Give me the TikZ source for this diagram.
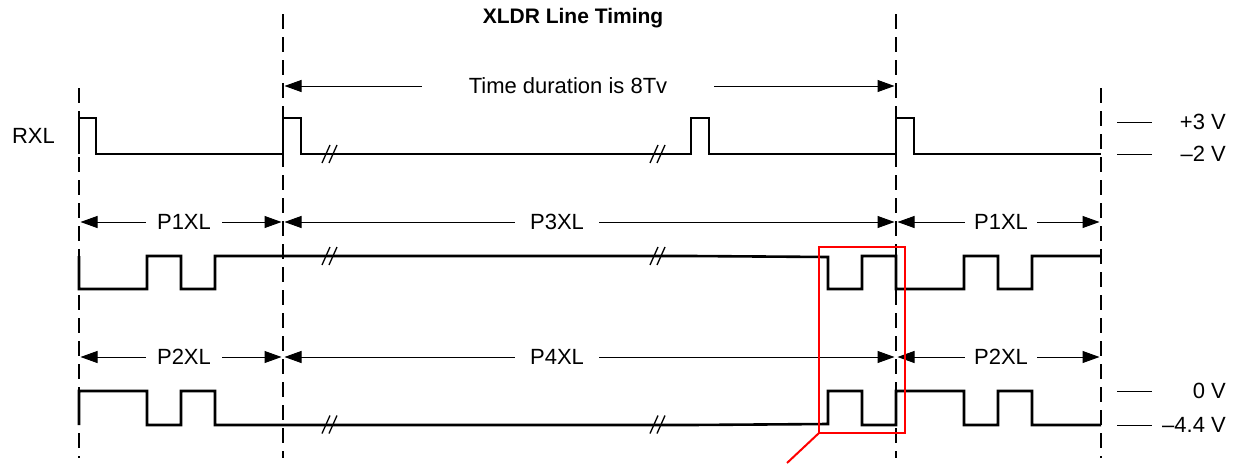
\documentclass[tikz,border=0pt]{standalone}
\usepackage{fontspec}
\setmainfont{Liberation Sans}
\usetikzlibrary{arrows.meta}

\tikzset{
  lbl/.style={font=\fontsize{22}{26}\selectfont, inner sep=0pt},
  marker/.style={line width=1.1pt, dash pattern=on 15pt off 8pt},
  wave/.style={line width=2.6pt},
  dim/.style={line width=1pt, -{Triangle[length=17pt,width=12pt]}, shorten >=1.5pt},
  brk/.style={line width=1.3pt},
  tick/.style={line width=1pt},
  zoombox/.style={draw=red, line width=2pt},
}

\begin{document}
\begin{tikzpicture}[x=1pt,y=-1pt]
	\useasboundingbox (0,0) rectangle (1241,463);

	% frame markers
	\foreach \x [count=\i from 0] in {79,283,896,1101}
		\coordinate (m\i) at (\x,0);
	\draw[marker] (79,88) -- (79,458);
	\draw[marker] (283,14) -- (283,458);
	\draw[marker] (896,14) -- (896,458);
	\draw[marker] (1101,88) -- (1101,458);

	% title
	\node[lbl, font=\fontsize{21}{25}\selectfont\bfseries] (title) at (573,18) {XLDR Line Timing};

	% duration
	\node[lbl, inner xsep=47pt] (dur) at (568,86) {Time duration is 8Tv};
	\draw[dim] (dur) -- (dur -| m1);
	\draw[dim] (dur) -- (dur -| m2);

	% RXL
	\node[lbl, anchor=east] (rxl) at (55,136) {RXL};
	\draw[wave] (79,154) -- (79,118) -- (96,118) -- (96,154) -- (283,154) -- (283,118) -- (301,118) -- (301,154)
		-- (691,154) -- (691,118) -- (709,118) -- (709,154) -- (896,154) -- (896,118) -- (914,118) -- (914,154) -- (1101,154);

	% P1XL / P3XL
	\node[lbl, inner xsep=11pt] (p1a) at (184,222) {P1XL};
	\node[lbl, inner xsep=15pt] (p3) at (557,222) {P3XL};
	\node[lbl, inner xsep=9pt] (p1b) at (1001,222) {P1XL};
	\draw[dim] (p1a) -- (p1a -| m0);
	\draw[dim] (p1a) -- (p1a -| m1);
	\draw[dim] (p3) -- (p3 -| m1);
	\draw[dim] (p3) -- (p3 -| m2);
	\draw[dim] (p1b) -- (p1b -| m2);
	\draw[dim] (p1b) -- (p1b -| m3);
	\draw[wave] (79,256) -- (79,289) -- (147,289) -- (147,256) -- (181,256) -- (181,289) -- (215,289) -- (215,256)
		-- (691,256) -- (828,257) -- (828,289) -- (862,289) -- (862,256) -- (896,256) -- (896,289) -- (964,289)
		-- (964,256) -- (998,256) -- (998,289) -- (1032,289) -- (1032,256) -- (1101,256);

	% P2XL / P4XL
	\node[lbl, inner xsep=11pt] (p2a) at (184,357) {P2XL};
	\node[lbl, inner xsep=15pt] (p4) at (557,357) {P4XL};
	\node[lbl, inner xsep=9pt] (p2b) at (1001,357) {P2XL};
	\draw[dim] (p2a) -- (p2a -| m0);
	\draw[dim] (p2a) -- (p2a -| m1);
	\draw[dim] (p4) -- (p4 -| m1);
	\draw[dim] (p4) -- (p4 -| m2);
	\draw[dim] (p2b) -- (p2b -| m2);
	\draw[dim] (p2b) -- (p2b -| m3);
	\draw[wave] (79,425) -- (79,391) -- (147,391) -- (147,425) -- (181,425) -- (181,391) -- (215,391) -- (215,425)
		-- (691,425) -- (828,424) -- (828,391) -- (862,391) -- (862,425) -- (896,425) -- (896,391) -- (964,391)
		-- (964,425) -- (998,425) -- (998,391) -- (1032,391) -- (1032,425) -- (1101,425);

	% breaks
	\foreach \y in {154,256,424.5}
		\foreach \x in {330,658} {
			\draw[brk] (\x-8,\y+9) -- (\x,\y-9);
			\draw[brk] (\x-1,\y+9) -- (\x+7,\y-9);
		}

	% levels
	\foreach \y/\v [count=\i] in {122/{+3 V},154/{--2 V},391/{0 V},425/{--4.4 V}} {
		\draw[tick] (1117,\y) -- (1152,\y);
		\node[lbl, anchor=east] (v\i) at (1226,\y) {\v};
	}

	% highlight
	\draw[zoombox] (819,247) rectangle (905,433);
	\coordinate (zc) at (819,433);
	\coordinate (zt) at (787,463);
	\draw[red, line width=2pt] (zc) -- (zt);
\end{tikzpicture}
\end{document}
